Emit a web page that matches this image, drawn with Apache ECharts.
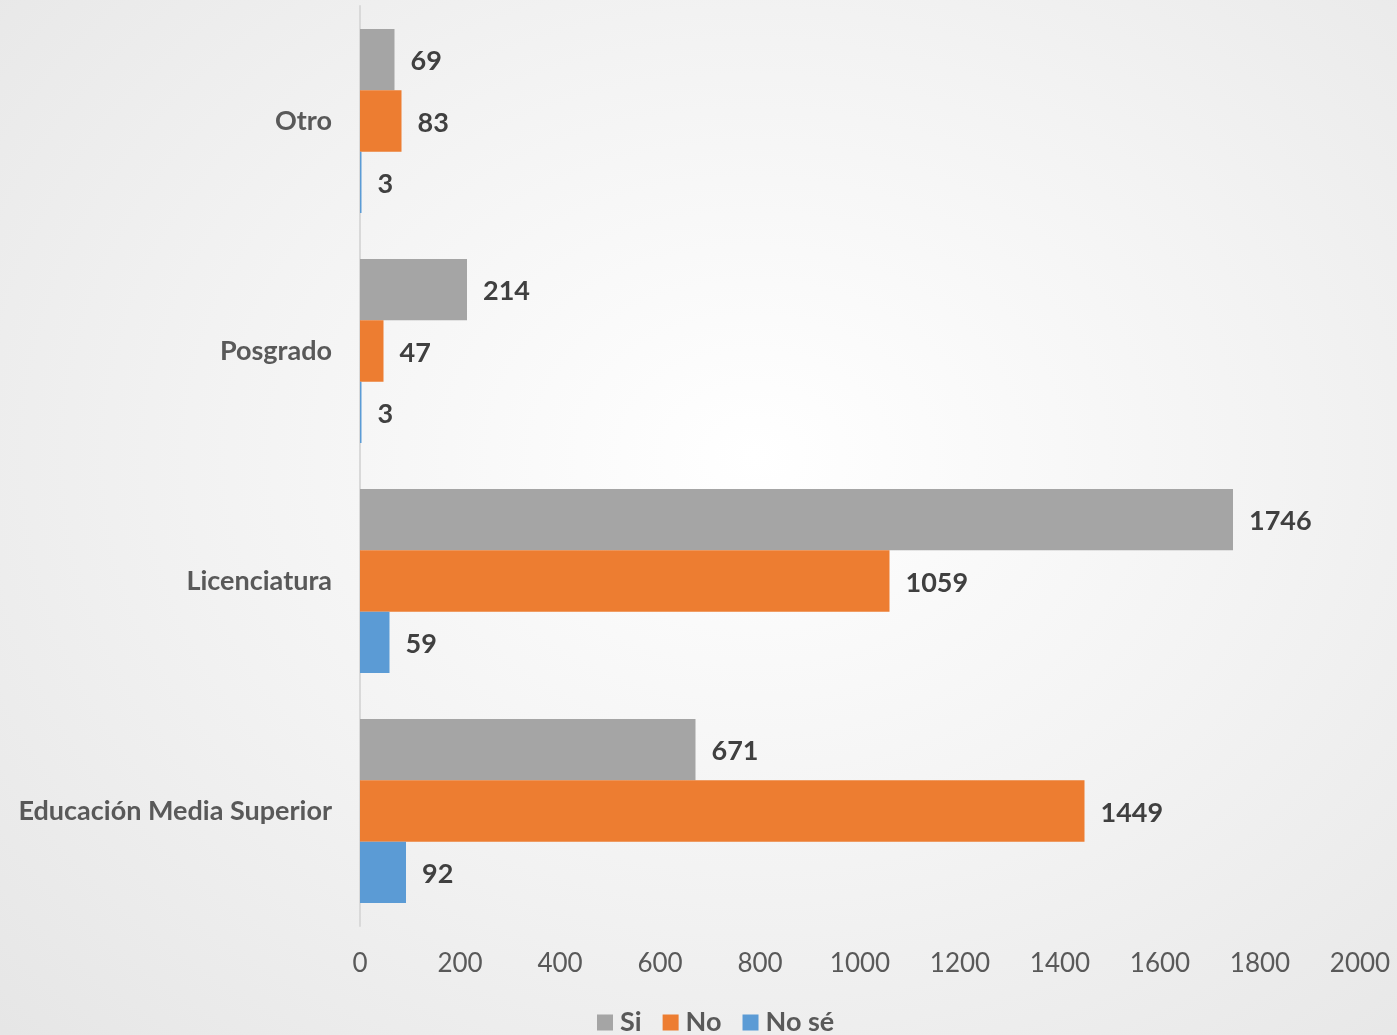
<!DOCTYPE html>
<html><head><meta charset="utf-8">
<script src="https://cdn.jsdelivr.net/npm/echarts@6/dist/echarts.min.js"></script>
<style>
html,body{margin:0;padding:0;}
#c{width:1397px;height:1035px;background:radial-gradient(ellipse 75% 80% at 54% 44%, #ffffff 0%, #f3f3f3 50%, #e6e6e6 100%);}
</style></head><body><div id="c"></div>
<script>
const categories = ['Otro', 'Posgrado', 'Licenciatura', 'Educación Media Superior'];
const seriesNames = ['Si', 'No', 'No sé'];
const siValues = [69, 214, 1746, 671];
const noValues = [83, 47, 1059, 1449];
const noSeValues = [3, 3, 59, 92];
const xTicks = [0, 200, 400, 600, 800, 1000, 1200, 1400, 1600, 1800, 2000];

const FONT = 'Lato, "Open Sans", sans-serif';
const colors = ['#a5a5a5', '#ed7d31', '#5b9bd5'];
const chart = echarts.init(document.getElementById('c'), null, {renderer: 'canvas'});
function mk(name, data, color){
  return {
    name, type: 'bar', data, barGap: '0%', barCategoryGap: '20%',
    itemStyle: {color},
    label: {show: true, position: 'right', distance: 16, color: '#404040', fontFamily: FONT, fontWeight: 'bold', fontSize: 27, offset: [0, 2]}
  };
}
chart.setOption({
  backgroundColor: 'transparent',
  animation: false,
  color: colors,
  grid: {left: 360, right: 37, top: 6, bottom: 109, containLabel: false},
  legend: {
    data: seriesNames, bottom: -6, left: 592, itemWidth: 16, itemHeight: 16, itemGap: 21,
    icon: 'rect',
    textStyle: {fontFamily: FONT, fontWeight: 'bold', fontSize: 27, color: '#595959', padding: [0, 0, 0, 2]}
  },
  xAxis: {
    type: 'value', min: xTicks[0], max: xTicks[xTicks.length-1], interval: 200,
    splitLine: {show: false}, axisLine: {show: false}, axisTick: {show: false},
    axisLabel: {fontFamily: FONT, fontSize: 26, color: '#595959', margin: 25, formatter: v => String(v)}
  },
  yAxis: {
    type: 'category', data: categories, inverse: true,
    axisLine: {show: true, lineStyle: {color: '#d9d9d9', width: 2}},
    axisTick: {show: false},
    axisLabel: {fontFamily: FONT, fontWeight: 'bold', fontSize: 27, color: '#595959', margin: 28}
  },
  series: [mk('Si', siValues, colors[0]), mk('No', noValues, colors[1]), mk('No sé', noSeValues, colors[2])]
});
</script></body></html>
